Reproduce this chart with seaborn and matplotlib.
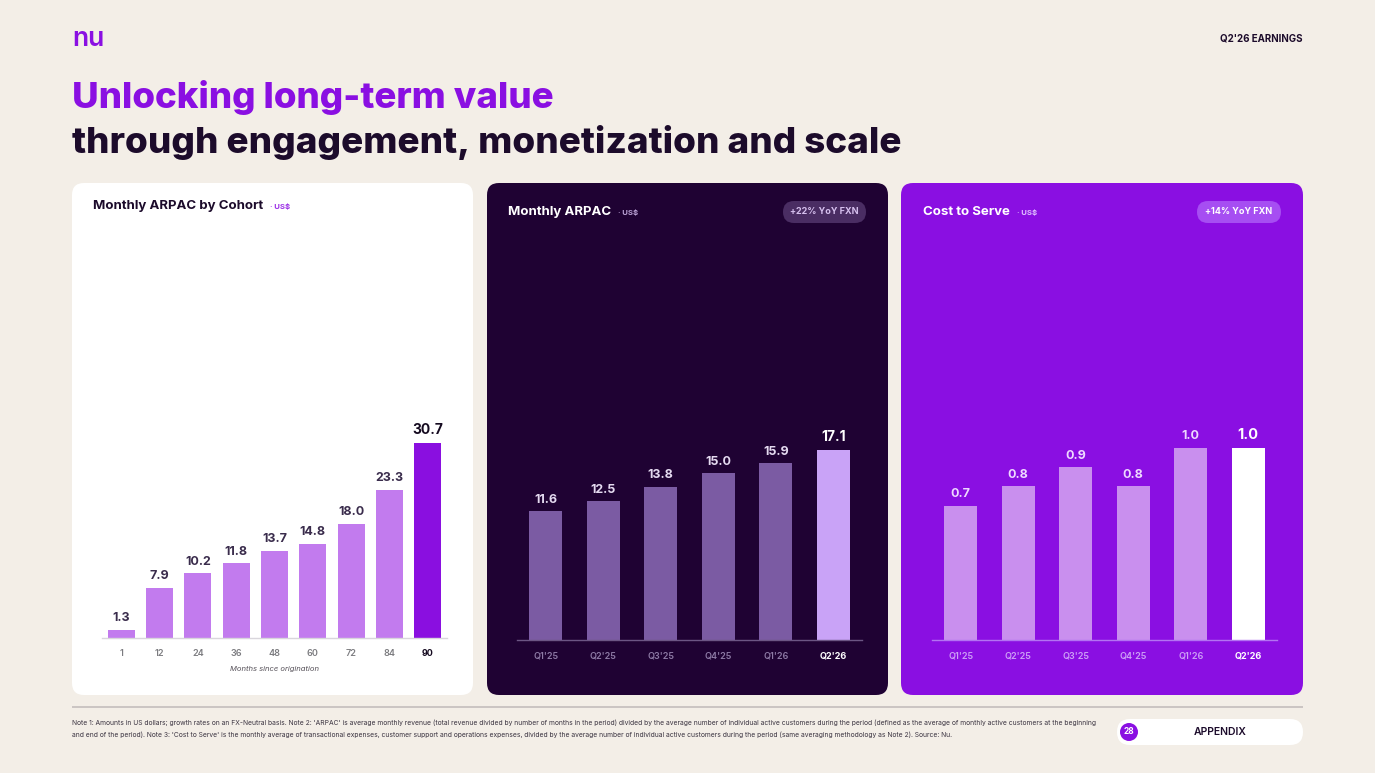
import matplotlib
matplotlib.use("Agg")
import matplotlib.pyplot as plt
from matplotlib.patches import FancyBboxPatch, Circle, Rectangle
from matplotlib.transforms import IdentityTransform
import seaborn as sns

sns.set_theme(style="white")
plt.rcParams["font.family"] = ["Inter", "DejaVu Sans"]

# data
cohort_months = ["1", "12", "24", "36", "48", "60", "72", "84", "90"]
cohort_arpac = [1.3, 7.9, 10.2, 11.8, 13.7, 14.8, 18.0, 23.3, 30.7]

quarters = ["Q1'25", "Q2'25", "Q3'25", "Q4'25", "Q1'26", "Q2'26"]
monthly_arpac = [11.6, 12.5, 13.8, 15.0, 15.9, 17.1]
cost_to_serve = [0.7, 0.8, 0.9, 0.8, 1.0, 1.0]

arpac_growth = "+22% YoY FXN"
cts_growth = "+14% YoY FXN"

W, H = 1375, 773
BG = "#F3EEE7"
PURPLE = "#8A0FE2"
DARK = "#1F0233"
INK = "#1C0B2B"

fig = plt.figure(figsize=(W / 100, H / 100), dpi=100, facecolor=BG)
renderer = fig.canvas.get_renderer()


def box(x0, y0, x1, y1, color, r, z=-5):
    # pixel coords, y measured from top
    p = FancyBboxPatch((x0, H - y1), x1 - x0, y1 - y0,
                       boxstyle=f"round,pad=0,rounding_size={r}",
                       transform=IdentityTransform(), facecolor=color,
                       edgecolor="none", zorder=z)
    fig.add_artist(p)
    return p


def txt(x, y, s, **kw):
    return fig.text(x / W, 1 - y / H, s, **kw)


def fit(t, width_px):
    w = t.get_window_extent(renderer).width
    t.set_fontsize(t.get_fontsize() * width_px / w)


# header
txt(72, 39, "nu", color=PURPLE, fontsize=19, fontweight="semibold", va="center")
txt(1303, 39, "Q2'26 EARNINGS", color=INK, fontsize=7, fontweight="bold",
    ha="right", va="center")
t1 = txt(72, 108, "Unlocking long-term value", color=PURPLE, fontsize=30,
         fontweight="heavy", va="baseline")
fit(t1, 484)
t2 = txt(72, 153, "through engagement, monetization and scale", color=INK,
         fontsize=30, fontweight="heavy", va="baseline")
fit(t2, 830)

# panels
box(72, 183, 473, 695, "white", 12)
box(487, 183, 888, 695, DARK, 12)
box(901, 183, 1303, 695, PURPLE, 12)


def panel_title(x, y, title, color, unit_color):
    t = txt(x, y, title, color=color, fontsize=9.5, fontweight="bold", va="center")
    ext = t.get_window_extent(renderer)
    txt(ext.x1 + 7, y + 1, "· US$", color=unit_color, fontsize=5.5,
        fontweight="bold", va="center")


panel_title(93, 206, "Monthly ARPAC by Cohort", INK, "#9B2FE6")
panel_title(508, 212, "Monthly ARPAC", "white", "#BBA3D6")
panel_title(923, 212, "Cost to Serve", "white", "#E0C2FF")


def pill(x0, x1, y, label, fill, color):
    box(x0, y - 11, x1, y + 11, fill, 11, z=-4)
    txt((x0 + x1) / 2, y, label, color=color, fontsize=6.5, fontweight="bold",
        ha="center", va="center")


pill(783, 866, 212, arpac_growth, "#4A2D63", "#D6C0EE")
pill(1197, 1281, 212, cts_growth, "#A64EF2", "white")


def bar_panel(rect, labels, values, colors, ytop, width, lab_col, lab_last,
              tick_col, tick_last, base_col, lab_size, last_size):
    x0, x1, yb, yt = rect
    ax = fig.add_axes([x0 / W, 1 - yb / H, (x1 - x0) / W, (yb - yt) / H])
    ax.patch.set_alpha(0)
    sns.barplot(x=labels, y=values, hue=labels, palette=colors, legend=False,
                width=width, saturation=1, linewidth=0, ax=ax)
    ax.set_ylim(0, ytop)
    ax.set_xlim(-0.5, len(labels) - 0.5)
    for s in ["top", "right", "left"]:
        ax.spines[s].set_visible(False)
    ax.spines["bottom"].set_color(base_col)
    ax.spines["bottom"].set_linewidth(1)
    ax.set_yticks([])
    ax.set_ylabel("")
    ax.tick_params(axis="x", length=0, pad=8)
    n = len(labels)
    for i, c in enumerate(ax.containers):
        last = i == n - 1
        ax.bar_label(c, labels=[f"{values[i]:.1f}"], padding=4,
                     color=lab_last if last else lab_col, fontweight="bold",
                     fontsize=last_size if last else lab_size)
    for i, tl in enumerate(ax.get_xticklabels()):
        last = i == n - 1
        tl.set_fontsize(6.5)
        tl.set_color(tick_last if last else tick_col)
        tl.set_fontweight("bold" if last else "semibold")
    return ax


ax1 = bar_panel((102, 447, 638, 410), cohort_months, cohort_arpac,
                ["#C27BEE"] * 8 + ["#8A0FE0"], 35.9, 0.7,
                "#3A2C4C", "#150A20", "#7C7C80", "#150A20", "#D9D6DC", 9, 10)
ax1.set_xlabel("Months since origination", fontsize=5.5, style="italic",
               color="#555058", labelpad=6)

bar_panel((517, 862, 640, 410), quarters, monthly_arpac,
          ["#7B5BA3"] * 5 + ["#C9A3F7"], 20.7, 0.58,
          "#E4DAF0", "white", "#8D7AA5", "white", "#6C5684", 9, 10)

bar_panel((932, 1277, 640, 410), quarters, cost_to_serve,
          ["#C98FEE"] * 5 + ["white"], 1.198, 0.58,
          "#EED9FF", "white", "#CDA0F6", "white", "#B373F2", 9, 10.5)

# footer
fig.add_artist(Rectangle((72, H - 708), 1231, 2, transform=IdentityTransform(),
                         facecolor="#CBC5C3", edgecolor="none"))
note1 = ("Note 1: Amounts in US dollars; growth rates on an FX-Neutral basis. Note 2: 'ARPAC' is average monthly "
         "revenue (total revenue divided by number of months in the period) divided by the average number of "
         "individual active customers during the period (defined as the average of monthly active customers at the beginning")
note2 = ("and end of the period). Note 3: 'Cost to Serve' is the monthly average of transactional expenses, customer "
         "support and operations expenses, divided by the average number of individual active customers during the "
         "period (same averaging methodology as Note 2). Source: Nu.")
n1 = txt(72, 723, note1, color="#3A3340", fontsize=5, va="center")
fit(n1, 1020)
n2 = txt(72, 735, note2, color="#3A3340", fontsize=n1.get_fontsize(), va="center")

box(1117, 719, 1303, 745, "white", 13, z=-4)
fig.add_artist(Circle((1129, H - 732), 9, transform=IdentityTransform(),
                      facecolor=PURPLE, edgecolor="none"))
txt(1129, 732, "28", color="white", fontsize=6, fontweight="bold",
    ha="center", va="center")
txt(1220, 732, "APPENDIX", color=INK, fontsize=7.5, fontweight="semibold",
    ha="center", va="center")

fig.savefig("out.png", dpi=100, facecolor=BG)
